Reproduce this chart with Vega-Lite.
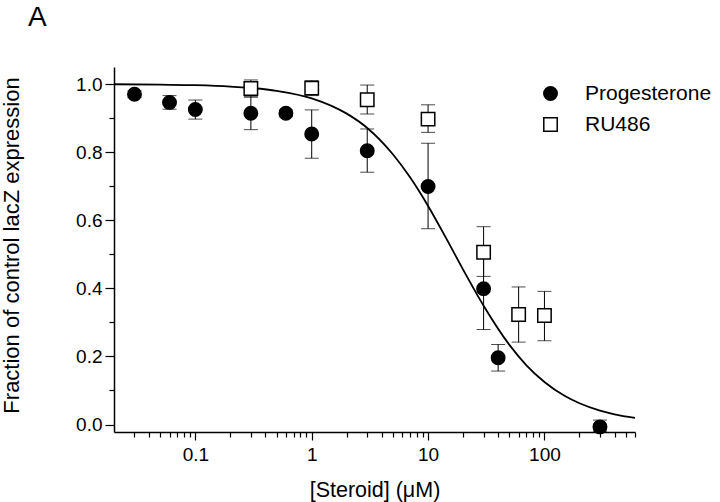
{
  "$schema": "https://vega.github.io/schema/vega-lite/v6.json",
  "width": 521,
  "height": 365,
  "autosize": "none",
  "padding": {"left": 114, "top": 67, "right": 85, "bottom": 70},
  "background": "white",
  "title": {"text": "A", "anchor": "start", "frame": "group", "dx": -86, "dy": -31, "fontSize": 28, "fontWeight": "normal", "font": "Liberation Sans", "color": "black"},
  "config": {
    "view": {"stroke": null},
    "font": "Liberation Sans",
    "axis": {"grid": false, "domainColor": "black", "domainWidth": 1.5, "tickColor": "black", "tickWidth": 1.2, "labelColor": "black", "titleColor": "black", "labelFont": "Liberation Sans", "titleFont": "Liberation Sans", "labelFontSize": 19, "titleFontSize": 21.5, "titleFontWeight": "normal"}
  },
  "datasets": {
    "pts": [
      {"steroid": "Progesterone", "conc": 0.03, "frac": 0.97, "lo": 0.96, "hi": 0.98},
      {"steroid": "Progesterone", "conc": 0.06, "frac": 0.946, "lo": 0.926, "hi": 0.966},
      {"steroid": "Progesterone", "conc": 0.1, "frac": 0.925, "lo": 0.897, "hi": 0.953},
      {"steroid": "Progesterone", "conc": 0.3, "frac": 0.914, "lo": 0.866, "hi": 0.962},
      {"steroid": "Progesterone", "conc": 0.6, "frac": 0.914, "lo": 0.904, "hi": 0.924},
      {"steroid": "Progesterone", "conc": 1, "frac": 0.853, "lo": 0.782, "hi": 0.924},
      {"steroid": "Progesterone", "conc": 3, "frac": 0.804, "lo": 0.741, "hi": 0.868},
      {"steroid": "Progesterone", "conc": 10, "frac": 0.699, "lo": 0.575, "hi": 0.826},
      {"steroid": "Progesterone", "conc": 30, "frac": 0.399, "lo": 0.279, "hi": 0.519},
      {"steroid": "Progesterone", "conc": 40, "frac": 0.196, "lo": 0.157, "hi": 0.235},
      {"steroid": "Progesterone", "conc": 300, "frac": -0.007, "lo": -0.02, "hi": 0.013},
      {"steroid": "RU486", "conc": 0.3, "frac": 0.987, "lo": 0.962, "hi": 1.012},
      {"steroid": "RU486", "conc": 1, "frac": 0.988, "lo": 0.966, "hi": 1.01},
      {"steroid": "RU486", "conc": 3, "frac": 0.954, "lo": 0.912, "hi": 0.997},
      {"steroid": "RU486", "conc": 10, "frac": 0.897, "lo": 0.858, "hi": 0.939},
      {"steroid": "RU486", "conc": 30, "frac": 0.506, "lo": 0.435, "hi": 0.581},
      {"steroid": "RU486", "conc": 60, "frac": 0.323, "lo": 0.242, "hi": 0.404},
      {"steroid": "RU486", "conc": 100, "frac": 0.32, "lo": 0.246, "hi": 0.391}
    ],
    "fit": [
      {"conc": 0.02, "frac": 0.9994},
      {"conc": 0.05, "frac": 0.998},
      {"conc": 0.1, "frac": 0.9965},
      {"conc": 0.2, "frac": 0.9925},
      {"conc": 0.5, "frac": 0.98},
      {"conc": 1, "frac": 0.958},
      {"conc": 2, "frac": 0.913},
      {"conc": 3, "frac": 0.871},
      {"conc": 5, "frac": 0.793},
      {"conc": 7, "frac": 0.726},
      {"conc": 10, "frac": 0.642},
      {"conc": 15, "frac": 0.534},
      {"conc": 20, "frac": 0.455},
      {"conc": 30, "frac": 0.349},
      {"conc": 50, "frac": 0.234},
      {"conc": 70, "frac": 0.174},
      {"conc": 100, "frac": 0.125},
      {"conc": 150, "frac": 0.0835},
      {"conc": 200, "frac": 0.0623},
      {"conc": 300, "frac": 0.0408},
      {"conc": 400, "frac": 0.03},
      {"conc": 600, "frac": 0.0195}
    ]
  },
  "resolve": {"axis": {"x": "independent", "y": "independent"}},
  "layer": [
    {
      "data": {"name": "fit"},
      "mark": {"type": "line", "color": "black", "strokeWidth": 1.8, "interpolate": "monotone"},
      "encoding": {
        "x": {"field": "conc", "type": "quantitative", "scale": {"type": "log", "domain": [0.02, 600], "nice": false},
          "axis": {"orient": "bottom", "values": [0.1, 1, 10, 100], "format": "~g", "tickSize": 8, "labelPadding": 5, "title": "[Steroid] (\u03bcM)", "titleY": 58, "titleBaseline": "middle"}},
        "y": {"field": "frac", "type": "quantitative", "scale": {"domain": [-0.022, 1.05], "nice": false, "zero": false},
          "axis": {"orient": "left", "values": [0, 0.2, 0.4, 0.6, 0.8, 1.0], "format": ".1f", "tickSize": 9, "labelPadding": 3, "title": "Fraction of control lacZ expression", "titleFontSize": 22, "titleX": -103, "titleY": 178, "titleAngle": -90, "titleAlign": "center", "titleBaseline": "middle"}}
      }
    },
    {
      "data": {"name": "pts"},
      "mark": {"type": "rule", "color": "black", "strokeWidth": 1},
      "encoding": {
        "x": {"field": "conc", "type": "quantitative", "scale": {"type": "log", "domain": [0.02, 600], "nice": false},
          "axis": {"orient": "bottom", "values": [0.03, 0.04, 0.05, 0.06, 0.07, 0.08, 0.09, 0.2, 0.3, 0.4, 0.5, 0.6, 0.7, 0.8, 0.9, 2, 3, 4, 5, 6, 7, 8, 9, 20, 30, 40, 50, 60, 70, 80, 90, 200, 300, 400, 500, 600], "labels": false, "tickSize": 5, "title": null, "domain": false}},
        "y": {"field": "lo", "type": "quantitative", "scale": {"domain": [-0.022, 1.05], "nice": false, "zero": false},
          "axis": {"orient": "left", "values": [0.1, 0.3, 0.5, 0.7, 0.9], "labels": false, "tickSize": 5, "title": null, "domain": false}},
        "y2": {"field": "hi"}
      }
    },
    {
      "data": {"name": "pts"},
      "mark": {"type": "tick", "orient": "horizontal", "color": "black", "size": 14, "thickness": 1},
      "encoding": {
        "x": {"field": "conc", "type": "quantitative", "scale": {"type": "log", "domain": [0.02, 600], "nice": false}, "axis": null},
        "y": {"field": "lo", "type": "quantitative", "scale": {"domain": [-0.022, 1.05], "nice": false, "zero": false}, "axis": null}
      }
    },
    {
      "data": {"name": "pts"},
      "mark": {"type": "tick", "orient": "horizontal", "color": "black", "size": 14, "thickness": 1},
      "encoding": {
        "x": {"field": "conc", "type": "quantitative", "scale": {"type": "log", "domain": [0.02, 600], "nice": false}, "axis": null},
        "y": {"field": "hi", "type": "quantitative", "scale": {"domain": [-0.022, 1.05], "nice": false, "zero": false}, "axis": null}
      }
    },
    {
      "data": {"name": "pts"},
      "mark": {"type": "point", "filled": false, "strokeWidth": 1.5, "opacity": 1, "size": 180},
      "encoding": {
        "x": {"field": "conc", "type": "quantitative", "scale": {"type": "log", "domain": [0.02, 600], "nice": false}, "axis": null},
        "y": {"field": "frac", "type": "quantitative", "scale": {"domain": [-0.022, 1.05], "nice": false, "zero": false}, "axis": null},
        "shape": {"field": "steroid", "type": "nominal", "scale": {"domain": ["Progesterone", "RU486"], "range": ["circle", "square"]},
          "legend": {"title": null, "orient": "none", "legendX": 426, "legendY": 16, "labelFontSize": 21, "labelFont": "Liberation Sans", "labelColor": "black", "labelOffset": 24, "rowPadding": 9, "symbolStrokeWidth": 1.5, "symbolSize": 180}},
        "fill": {"field": "steroid", "type": "nominal", "scale": {"domain": ["Progesterone", "RU486"], "range": ["black", "white"]},
          "legend": {"title": null, "orient": "none", "legendX": 426, "legendY": 16, "labelFontSize": 21, "labelFont": "Liberation Sans", "labelColor": "black", "labelOffset": 24, "rowPadding": 9, "symbolStrokeWidth": 1.5, "symbolSize": 180}},
        "stroke": {"field": "steroid", "type": "nominal", "scale": {"domain": ["Progesterone", "RU486"], "range": ["black", "black"]},
          "legend": {"title": null, "orient": "none", "legendX": 426, "legendY": 16, "labelFontSize": 21, "labelFont": "Liberation Sans", "labelColor": "black", "labelOffset": 24, "rowPadding": 9, "symbolStrokeWidth": 1.5, "symbolSize": 180}}
      }
    }
  ]
}
